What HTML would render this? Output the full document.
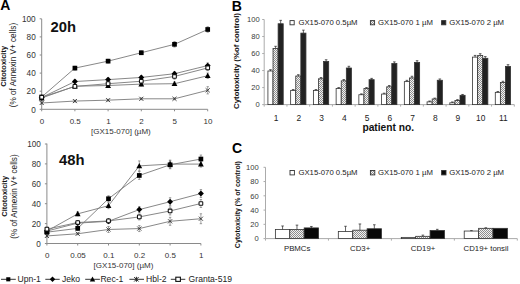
<!DOCTYPE html>
<html><head><meta charset="utf-8"><title>GX15-070 cytotoxicity figure</title>
<style>
html,body{margin:0;padding:0;background:#fff;}
body{width:520px;height:284px;overflow:hidden;}
svg{display:block;font-family:'Liberation Sans',sans-serif;}
svg text{font-family:'Liberation Sans',sans-serif;}
</style></head>
<body>
<svg width="520" height="284" viewBox="0 0 520 284">
<defs>
<pattern id="hatch" width="2" height="2" patternUnits="userSpaceOnUse">
<rect width="2" height="2" fill="#f2f2f2"/>
<rect width="1" height="1" fill="#8e8e8e"/>
<rect x="1" y="1" width="1" height="1" fill="#8e8e8e"/>
</pattern>
</defs>
<rect width="520" height="284" fill="#fff"/>
<line x1="41.70" y1="18.90" x2="41.70" y2="109.30" stroke="#8a8a8a" stroke-width="1"/>
<line x1="41.70" y1="109.30" x2="207.70" y2="109.30" stroke="#8a8a8a" stroke-width="1"/>
<line x1="39.70" y1="109.30" x2="41.70" y2="109.30" stroke="#8a8a8a" stroke-width="1"/>
<text x="35.70" y="112.50" font-size="8.2" text-anchor="end" style="" fill="#333" >0</text>
<line x1="39.70" y1="91.20" x2="41.70" y2="91.20" stroke="#8a8a8a" stroke-width="1"/>
<text x="35.70" y="94.40" font-size="8.2" text-anchor="end" style="" fill="#333" >20</text>
<line x1="39.70" y1="73.10" x2="41.70" y2="73.10" stroke="#8a8a8a" stroke-width="1"/>
<text x="35.70" y="76.30" font-size="8.2" text-anchor="end" style="" fill="#333" >40</text>
<line x1="39.70" y1="55.00" x2="41.70" y2="55.00" stroke="#8a8a8a" stroke-width="1"/>
<text x="35.70" y="58.20" font-size="8.2" text-anchor="end" style="" fill="#333" >60</text>
<line x1="39.70" y1="36.90" x2="41.70" y2="36.90" stroke="#8a8a8a" stroke-width="1"/>
<text x="35.70" y="40.10" font-size="8.2" text-anchor="end" style="" fill="#333" >80</text>
<line x1="39.70" y1="18.80" x2="41.70" y2="18.80" stroke="#8a8a8a" stroke-width="1"/>
<text x="35.70" y="22.00" font-size="8.2" text-anchor="end" style="" fill="#333" >100</text>
<line x1="41.70" y1="109.30" x2="41.70" y2="111.30" stroke="#8a8a8a" stroke-width="1"/>
<text x="42.00" y="124.30" font-size="8" text-anchor="middle" style="" fill="#333" >0</text>
<line x1="74.90" y1="109.30" x2="74.90" y2="111.30" stroke="#8a8a8a" stroke-width="1"/>
<text x="75.20" y="124.30" font-size="8" text-anchor="middle" style="" fill="#333" >0.5</text>
<line x1="108.10" y1="109.30" x2="108.10" y2="111.30" stroke="#8a8a8a" stroke-width="1"/>
<text x="108.40" y="124.30" font-size="8" text-anchor="middle" style="" fill="#333" >1</text>
<line x1="141.30" y1="109.30" x2="141.30" y2="111.30" stroke="#8a8a8a" stroke-width="1"/>
<text x="141.60" y="124.30" font-size="8" text-anchor="middle" style="" fill="#333" >2</text>
<line x1="174.50" y1="109.30" x2="174.50" y2="111.30" stroke="#8a8a8a" stroke-width="1"/>
<text x="174.80" y="124.30" font-size="8" text-anchor="middle" style="" fill="#333" >5</text>
<line x1="207.70" y1="109.30" x2="207.70" y2="111.30" stroke="#8a8a8a" stroke-width="1"/>
<text x="208.00" y="124.30" font-size="8" text-anchor="middle" style="" fill="#333" >10</text>
<text x="91.00" y="133.60" font-size="8" text-anchor="start" style="" fill="#333" >[GX15-070] (&#181;M)</text>
<text x="50.50" y="32.00" font-size="14.8" text-anchor="start" style="font-weight:bold;" fill="#111" >20h</text>
<text transform="translate(5.90,66.30) rotate(-90)" font-size="7.5" text-anchor="middle" style="font-weight:bold" fill="#111">Citotoxicity</text>
<text transform="translate(16.20,65.10) rotate(-90)" font-size="8.2" text-anchor="middle" fill="#222">(% of Annexin V+ cells)</text>
<polyline points="41.70,96.99 74.90,68.12 108.10,61.15 141.30,52.74 174.50,44.32 207.70,29.48" fill="none" stroke="#7a7a7a" stroke-width="0.9"/>
<polyline points="41.70,97.53 74.90,81.52 108.10,79.62 141.30,77.44 174.50,73.73 207.70,65.59" fill="none" stroke="#7a7a7a" stroke-width="0.9"/>
<polyline points="41.70,97.99 74.90,86.22 108.10,85.50 141.30,84.14 174.50,83.69 207.70,75.72" fill="none" stroke="#7a7a7a" stroke-width="0.9"/>
<polyline points="41.70,102.97 74.90,101.06 108.10,100.16 141.30,98.80 174.50,98.80 207.70,90.30" fill="none" stroke="#7a7a7a" stroke-width="0.9"/>
<polyline points="41.70,97.26 74.90,86.40 108.10,83.69 141.30,81.25 174.50,76.45 207.70,67.94" fill="none" stroke="#7a7a7a" stroke-width="0.9"/>
<path d="M41.70,95.18 L41.70,98.80 M40.50,95.18 L42.90,95.18 M40.50,98.80 L42.90,98.80" stroke="#666" stroke-width="0.6" fill="none"/>
<path d="M74.90,66.31 L74.90,69.93 M73.70,66.31 L76.10,66.31 M73.70,69.93 L76.10,69.93" stroke="#666" stroke-width="0.6" fill="none"/>
<path d="M108.10,59.34 L108.10,62.96 M106.90,59.34 L109.30,59.34 M106.90,62.96 L109.30,62.96" stroke="#666" stroke-width="0.6" fill="none"/>
<path d="M141.30,50.93 L141.30,54.55 M140.10,50.93 L142.50,50.93 M140.10,54.55 L142.50,54.55" stroke="#666" stroke-width="0.6" fill="none"/>
<path d="M174.50,41.61 L174.50,47.04 M173.30,41.61 L175.70,41.61 M173.30,47.04 L175.70,47.04" stroke="#666" stroke-width="0.6" fill="none"/>
<path d="M207.70,26.76 L207.70,32.19 M206.50,26.76 L208.90,26.76 M206.50,32.19 L208.90,32.19" stroke="#666" stroke-width="0.6" fill="none"/>
<path d="M41.70,95.72 L41.70,99.34 M40.50,95.72 L42.90,95.72 M40.50,99.34 L42.90,99.34" stroke="#666" stroke-width="0.6" fill="none"/>
<path d="M74.90,79.71 L74.90,83.33 M73.70,79.71 L76.10,79.71 M73.70,83.33 L76.10,83.33" stroke="#666" stroke-width="0.6" fill="none"/>
<path d="M108.10,77.81 L108.10,81.43 M106.90,77.81 L109.30,77.81 M106.90,81.43 L109.30,81.43" stroke="#666" stroke-width="0.6" fill="none"/>
<path d="M141.30,75.63 L141.30,79.25 M140.10,75.63 L142.50,75.63 M140.10,79.25 L142.50,79.25" stroke="#666" stroke-width="0.6" fill="none"/>
<path d="M174.50,71.92 L174.50,75.54 M173.30,71.92 L175.70,71.92 M173.30,75.54 L175.70,75.54" stroke="#666" stroke-width="0.6" fill="none"/>
<path d="M207.70,62.87 L207.70,68.30 M206.50,62.87 L208.90,62.87 M206.50,68.30 L208.90,68.30" stroke="#666" stroke-width="0.6" fill="none"/>
<path d="M41.70,96.18 L41.70,99.80 M40.50,96.18 L42.90,96.18 M40.50,99.80 L42.90,99.80" stroke="#666" stroke-width="0.6" fill="none"/>
<path d="M74.90,84.41 L74.90,88.03 M73.70,84.41 L76.10,84.41 M73.70,88.03 L76.10,88.03" stroke="#666" stroke-width="0.6" fill="none"/>
<path d="M108.10,83.69 L108.10,87.31 M106.90,83.69 L109.30,83.69 M106.90,87.31 L109.30,87.31" stroke="#666" stroke-width="0.6" fill="none"/>
<path d="M141.30,82.33 L141.30,85.95 M140.10,82.33 L142.50,82.33 M140.10,85.95 L142.50,85.95" stroke="#666" stroke-width="0.6" fill="none"/>
<path d="M174.50,81.88 L174.50,85.50 M173.30,81.88 L175.70,81.88 M173.30,85.50 L175.70,85.50" stroke="#666" stroke-width="0.6" fill="none"/>
<path d="M207.70,73.01 L207.70,78.44 M206.50,73.01 L208.90,73.01 M206.50,78.44 L208.90,78.44" stroke="#666" stroke-width="0.6" fill="none"/>
<path d="M41.70,102.06 L41.70,103.87 M40.50,102.06 L42.90,102.06 M40.50,103.87 L42.90,103.87" stroke="#666" stroke-width="0.6" fill="none"/>
<path d="M74.90,100.16 L74.90,101.97 M73.70,100.16 L76.10,100.16 M73.70,101.97 L76.10,101.97" stroke="#666" stroke-width="0.6" fill="none"/>
<path d="M108.10,99.25 L108.10,101.06 M106.90,99.25 L109.30,99.25 M106.90,101.06 L109.30,101.06" stroke="#666" stroke-width="0.6" fill="none"/>
<path d="M141.30,97.90 L141.30,99.71 M140.10,97.90 L142.50,97.90 M140.10,99.71 L142.50,99.71" stroke="#666" stroke-width="0.6" fill="none"/>
<path d="M174.50,97.90 L174.50,99.71 M173.30,97.90 L175.70,97.90 M173.30,99.71 L175.70,99.71" stroke="#666" stroke-width="0.6" fill="none"/>
<path d="M207.70,86.67 L207.70,93.92 M206.50,86.67 L208.90,86.67 M206.50,93.92 L208.90,93.92" stroke="#666" stroke-width="0.6" fill="none"/>
<path d="M41.70,95.45 L41.70,99.07 M40.50,95.45 L42.90,95.45 M40.50,99.07 L42.90,99.07" stroke="#666" stroke-width="0.6" fill="none"/>
<path d="M74.90,84.59 L74.90,88.21 M73.70,84.59 L76.10,84.59 M73.70,88.21 L76.10,88.21" stroke="#666" stroke-width="0.6" fill="none"/>
<path d="M108.10,81.88 L108.10,85.50 M106.90,81.88 L109.30,81.88 M106.90,85.50 L109.30,85.50" stroke="#666" stroke-width="0.6" fill="none"/>
<path d="M141.30,79.44 L141.30,83.06 M140.10,79.44 L142.50,79.44 M140.10,83.06 L142.50,83.06" stroke="#666" stroke-width="0.6" fill="none"/>
<path d="M174.50,73.73 L174.50,79.16 M173.30,73.73 L175.70,73.73 M173.30,79.16 L175.70,79.16" stroke="#666" stroke-width="0.6" fill="none"/>
<path d="M207.70,65.23 L207.70,70.66 M206.50,65.23 L208.90,65.23 M206.50,70.66 L208.90,70.66" stroke="#666" stroke-width="0.6" fill="none"/>
<rect x="39.35" y="94.64" width="4.70" height="4.70" fill="#000"/>
<rect x="72.55" y="65.77" width="4.70" height="4.70" fill="#000"/>
<rect x="105.75" y="58.80" width="4.70" height="4.70" fill="#000"/>
<rect x="138.95" y="50.39" width="4.70" height="4.70" fill="#000"/>
<rect x="172.15" y="41.97" width="4.70" height="4.70" fill="#000"/>
<rect x="205.35" y="27.13" width="4.70" height="4.70" fill="#000"/>
<path d="M41.70,94.58 L44.65,97.53 L41.70,100.48 L38.75,97.53 Z" fill="#000"/>
<path d="M74.90,78.57 L77.85,81.52 L74.90,84.47 L71.95,81.52 Z" fill="#000"/>
<path d="M108.10,76.67 L111.05,79.62 L108.10,82.57 L105.15,79.62 Z" fill="#000"/>
<path d="M141.30,74.49 L144.25,77.44 L141.30,80.39 L138.35,77.44 Z" fill="#000"/>
<path d="M174.50,70.78 L177.45,73.73 L174.50,76.68 L171.55,73.73 Z" fill="#000"/>
<path d="M207.70,62.64 L210.65,65.59 L207.70,68.54 L204.75,65.59 Z" fill="#000"/>
<path d="M41.70,94.99 L44.60,100.39 L38.80,100.39 Z" fill="#000"/>
<path d="M74.90,83.22 L77.80,88.62 L72.00,88.62 Z" fill="#000"/>
<path d="M108.10,82.50 L111.00,87.90 L105.20,87.90 Z" fill="#000"/>
<path d="M141.30,81.14 L144.20,86.54 L138.40,86.54 Z" fill="#000"/>
<path d="M174.50,80.69 L177.40,86.09 L171.60,86.09 Z" fill="#000"/>
<path d="M207.70,72.72 L210.60,78.12 L204.80,78.12 Z" fill="#000"/>
<path d="M39.65,100.92 L43.75,105.02 M43.75,100.92 L39.65,105.02" stroke="#333" stroke-width="0.9" fill="none"/>
<path d="M72.85,99.01 L76.95,103.11 M76.95,99.01 L72.85,103.11" stroke="#333" stroke-width="0.9" fill="none"/>
<path d="M106.05,98.11 L110.15,102.21 M110.15,98.11 L106.05,102.21" stroke="#333" stroke-width="0.9" fill="none"/>
<path d="M139.25,96.75 L143.35,100.85 M143.35,96.75 L139.25,100.85" stroke="#333" stroke-width="0.9" fill="none"/>
<path d="M172.45,96.75 L176.55,100.85 M176.55,96.75 L172.45,100.85" stroke="#333" stroke-width="0.9" fill="none"/>
<path d="M205.65,88.25 L209.75,92.34 M209.75,88.25 L205.65,92.34" stroke="#333" stroke-width="0.9" fill="none"/>
<rect x="39.85" y="95.41" width="3.70" height="3.70" rx="0.5" fill="#fff" stroke="#111" stroke-width="1.05"/>
<rect x="73.05" y="84.55" width="3.70" height="3.70" rx="0.5" fill="#fff" stroke="#111" stroke-width="1.05"/>
<rect x="106.25" y="81.84" width="3.70" height="3.70" rx="0.5" fill="#fff" stroke="#111" stroke-width="1.05"/>
<rect x="139.45" y="79.40" width="3.70" height="3.70" rx="0.5" fill="#fff" stroke="#111" stroke-width="1.05"/>
<rect x="172.65" y="74.60" width="3.70" height="3.70" rx="0.5" fill="#fff" stroke="#111" stroke-width="1.05"/>
<rect x="205.85" y="66.09" width="3.70" height="3.70" rx="0.5" fill="#fff" stroke="#111" stroke-width="1.05"/>
<line x1="46.90" y1="143.60" x2="46.90" y2="243.50" stroke="#8a8a8a" stroke-width="1"/>
<line x1="46.90" y1="243.50" x2="200.90" y2="243.50" stroke="#8a8a8a" stroke-width="1"/>
<line x1="44.90" y1="243.50" x2="46.90" y2="243.50" stroke="#8a8a8a" stroke-width="1"/>
<text x="40.90" y="246.70" font-size="8.2" text-anchor="end" style="" fill="#333" >0</text>
<line x1="44.90" y1="223.60" x2="46.90" y2="223.60" stroke="#8a8a8a" stroke-width="1"/>
<text x="40.90" y="226.80" font-size="8.2" text-anchor="end" style="" fill="#333" >20</text>
<line x1="44.90" y1="203.70" x2="46.90" y2="203.70" stroke="#8a8a8a" stroke-width="1"/>
<text x="40.90" y="206.90" font-size="8.2" text-anchor="end" style="" fill="#333" >40</text>
<line x1="44.90" y1="183.80" x2="46.90" y2="183.80" stroke="#8a8a8a" stroke-width="1"/>
<text x="40.90" y="187.00" font-size="8.2" text-anchor="end" style="" fill="#333" >60</text>
<line x1="44.90" y1="163.90" x2="46.90" y2="163.90" stroke="#8a8a8a" stroke-width="1"/>
<text x="40.90" y="167.10" font-size="8.2" text-anchor="end" style="" fill="#333" >80</text>
<line x1="44.90" y1="144.00" x2="46.90" y2="144.00" stroke="#8a8a8a" stroke-width="1"/>
<text x="40.90" y="147.20" font-size="8.2" text-anchor="end" style="" fill="#333" >100</text>
<line x1="46.90" y1="243.50" x2="46.90" y2="245.50" stroke="#8a8a8a" stroke-width="1"/>
<text x="47.20" y="257.70" font-size="8" text-anchor="middle" style="" fill="#333" >0</text>
<line x1="77.70" y1="243.50" x2="77.70" y2="245.50" stroke="#8a8a8a" stroke-width="1"/>
<text x="78.00" y="257.70" font-size="8" text-anchor="middle" style="" fill="#333" >0.05</text>
<line x1="108.50" y1="243.50" x2="108.50" y2="245.50" stroke="#8a8a8a" stroke-width="1"/>
<text x="108.80" y="257.70" font-size="8" text-anchor="middle" style="" fill="#333" >0.1</text>
<line x1="139.30" y1="243.50" x2="139.30" y2="245.50" stroke="#8a8a8a" stroke-width="1"/>
<text x="139.60" y="257.70" font-size="8" text-anchor="middle" style="" fill="#333" >0.2</text>
<line x1="170.10" y1="243.50" x2="170.10" y2="245.50" stroke="#8a8a8a" stroke-width="1"/>
<text x="170.40" y="257.70" font-size="8" text-anchor="middle" style="" fill="#333" >0.5</text>
<line x1="200.90" y1="243.50" x2="200.90" y2="245.50" stroke="#8a8a8a" stroke-width="1"/>
<text x="201.20" y="257.70" font-size="8" text-anchor="middle" style="" fill="#333" >1</text>
<text x="93.60" y="267.90" font-size="8" text-anchor="start" style="" fill="#333" >[GX15-070] (&#181;M)</text>
<text x="59.00" y="164.50" font-size="14.8" text-anchor="start" style="font-weight:bold;" fill="#111" >48h</text>
<text transform="translate(6.80,196.30) rotate(-90)" font-size="7.5" text-anchor="middle" style="font-weight:bold" fill="#111">Citotoxicity</text>
<text transform="translate(16.80,196.60) rotate(-90)" font-size="8.2" text-anchor="middle" fill="#222">(% of Annexin V+ cells)</text>
<polyline points="46.90,232.16 77.70,228.38 108.50,198.72 139.30,175.44 170.10,164.80 200.90,159.02" fill="none" stroke="#7a7a7a" stroke-width="0.9"/>
<polyline points="46.90,231.06 77.70,223.10 108.50,221.31 139.30,209.57 170.10,201.71 200.90,193.55" fill="none" stroke="#7a7a7a" stroke-width="0.9"/>
<polyline points="46.90,231.06 77.70,213.85 108.50,205.69 139.30,165.89 170.10,164.10 200.90,164.10" fill="none" stroke="#7a7a7a" stroke-width="0.9"/>
<polyline points="46.90,235.94 77.70,233.75 108.50,229.47 139.30,228.57 170.10,221.31 200.90,218.72" fill="none" stroke="#7a7a7a" stroke-width="0.9"/>
<polyline points="46.90,229.17 77.70,222.51 108.50,220.91 139.30,216.93 170.10,210.96 200.90,203.50" fill="none" stroke="#7a7a7a" stroke-width="0.9"/>
<path d="M46.90,230.17 L46.90,234.15 M45.70,230.17 L48.10,230.17 M45.70,234.15 L48.10,234.15" stroke="#666" stroke-width="0.6" fill="none"/>
<path d="M77.70,226.39 L77.70,230.37 M76.50,226.39 L78.90,226.39 M76.50,230.37 L78.90,230.37" stroke="#666" stroke-width="0.6" fill="none"/>
<path d="M108.50,195.74 L108.50,201.71 M107.30,195.74 L109.70,195.74 M107.30,201.71 L109.70,201.71" stroke="#666" stroke-width="0.6" fill="none"/>
<path d="M139.30,171.46 L139.30,179.42 M138.10,171.46 L140.50,171.46 M138.10,179.42 L140.50,179.42" stroke="#666" stroke-width="0.6" fill="none"/>
<path d="M170.10,160.82 L170.10,168.78 M168.90,160.82 L171.30,160.82 M168.90,168.78 L171.30,168.78" stroke="#666" stroke-width="0.6" fill="none"/>
<path d="M200.90,155.04 L200.90,163.00 M199.70,155.04 L202.10,155.04 M199.70,163.00 L202.10,163.00" stroke="#666" stroke-width="0.6" fill="none"/>
<path d="M46.90,229.07 L46.90,233.05 M45.70,229.07 L48.10,229.07 M45.70,233.05 L48.10,233.05" stroke="#666" stroke-width="0.6" fill="none"/>
<path d="M77.70,221.11 L77.70,225.09 M76.50,221.11 L78.90,221.11 M76.50,225.09 L78.90,225.09" stroke="#666" stroke-width="0.6" fill="none"/>
<path d="M108.50,219.32 L108.50,223.30 M107.30,219.32 L109.70,219.32 M107.30,223.30 L109.70,223.30" stroke="#666" stroke-width="0.6" fill="none"/>
<path d="M139.30,206.59 L139.30,212.56 M138.10,206.59 L140.50,206.59 M138.10,212.56 L140.50,212.56" stroke="#666" stroke-width="0.6" fill="none"/>
<path d="M170.10,197.73 L170.10,205.69 M168.90,197.73 L171.30,197.73 M168.90,205.69 L171.30,205.69" stroke="#666" stroke-width="0.6" fill="none"/>
<path d="M200.90,189.57 L200.90,197.53 M199.70,189.57 L202.10,189.57 M199.70,197.53 L202.10,197.53" stroke="#666" stroke-width="0.6" fill="none"/>
<path d="M46.90,229.07 L46.90,233.05 M45.70,229.07 L48.10,229.07 M45.70,233.05 L48.10,233.05" stroke="#666" stroke-width="0.6" fill="none"/>
<path d="M77.70,211.86 L77.70,215.84 M76.50,211.86 L78.90,211.86 M76.50,215.84 L78.90,215.84" stroke="#666" stroke-width="0.6" fill="none"/>
<path d="M108.50,202.70 L108.50,208.68 M107.30,202.70 L109.70,202.70 M107.30,208.68 L109.70,208.68" stroke="#666" stroke-width="0.6" fill="none"/>
<path d="M139.30,160.91 L139.30,170.86 M138.10,160.91 L140.50,160.91 M138.10,170.86 L140.50,170.86" stroke="#666" stroke-width="0.6" fill="none"/>
<path d="M170.10,160.12 L170.10,168.08 M168.90,160.12 L171.30,160.12 M168.90,168.08 L171.30,168.08" stroke="#666" stroke-width="0.6" fill="none"/>
<path d="M200.90,161.11 L200.90,167.08 M199.70,161.11 L202.10,161.11 M199.70,167.08 L202.10,167.08" stroke="#666" stroke-width="0.6" fill="none"/>
<path d="M46.90,234.94 L46.90,236.93 M45.70,234.94 L48.10,234.94 M45.70,236.93 L48.10,236.93" stroke="#666" stroke-width="0.6" fill="none"/>
<path d="M77.70,232.75 L77.70,234.74 M76.50,232.75 L78.90,232.75 M76.50,234.74 L78.90,234.74" stroke="#666" stroke-width="0.6" fill="none"/>
<path d="M108.50,226.49 L108.50,232.46 M107.30,226.49 L109.70,226.49 M107.30,232.46 L109.70,232.46" stroke="#666" stroke-width="0.6" fill="none"/>
<path d="M139.30,225.59 L139.30,231.56 M138.10,225.59 L140.50,225.59 M138.10,231.56 L140.50,231.56" stroke="#666" stroke-width="0.6" fill="none"/>
<path d="M170.10,217.33 L170.10,225.29 M168.90,217.33 L171.30,217.33 M168.90,225.29 L171.30,225.29" stroke="#666" stroke-width="0.6" fill="none"/>
<path d="M200.90,213.75 L200.90,223.70 M199.70,213.75 L202.10,213.75 M199.70,223.70 L202.10,223.70" stroke="#666" stroke-width="0.6" fill="none"/>
<path d="M46.90,227.18 L46.90,231.16 M45.70,227.18 L48.10,227.18 M45.70,231.16 L48.10,231.16" stroke="#666" stroke-width="0.6" fill="none"/>
<path d="M77.70,220.52 L77.70,224.50 M76.50,220.52 L78.90,220.52 M76.50,224.50 L78.90,224.50" stroke="#666" stroke-width="0.6" fill="none"/>
<path d="M108.50,218.92 L108.50,222.90 M107.30,218.92 L109.70,218.92 M107.30,222.90 L109.70,222.90" stroke="#666" stroke-width="0.6" fill="none"/>
<path d="M139.30,213.95 L139.30,219.92 M138.10,213.95 L140.50,213.95 M138.10,219.92 L140.50,219.92" stroke="#666" stroke-width="0.6" fill="none"/>
<path d="M170.10,206.98 L170.10,214.94 M168.90,206.98 L171.30,206.98 M168.90,214.94 L171.30,214.94" stroke="#666" stroke-width="0.6" fill="none"/>
<path d="M200.90,199.52 L200.90,207.48 M199.70,199.52 L202.10,199.52 M199.70,207.48 L202.10,207.48" stroke="#666" stroke-width="0.6" fill="none"/>
<rect x="44.55" y="229.81" width="4.70" height="4.70" fill="#000"/>
<rect x="75.35" y="226.03" width="4.70" height="4.70" fill="#000"/>
<rect x="106.15" y="196.38" width="4.70" height="4.70" fill="#000"/>
<rect x="136.95" y="173.09" width="4.70" height="4.70" fill="#000"/>
<rect x="167.75" y="162.45" width="4.70" height="4.70" fill="#000"/>
<rect x="198.55" y="156.67" width="4.70" height="4.70" fill="#000"/>
<path d="M46.90,228.11 L49.85,231.06 L46.90,234.01 L43.95,231.06 Z" fill="#000"/>
<path d="M77.70,220.15 L80.65,223.10 L77.70,226.05 L74.75,223.10 Z" fill="#000"/>
<path d="M108.50,218.36 L111.45,221.31 L108.50,224.26 L105.55,221.31 Z" fill="#000"/>
<path d="M139.30,206.62 L142.25,209.57 L139.30,212.52 L136.35,209.57 Z" fill="#000"/>
<path d="M170.10,198.76 L173.05,201.71 L170.10,204.66 L167.15,201.71 Z" fill="#000"/>
<path d="M200.90,190.60 L203.85,193.55 L200.90,196.50 L197.95,193.55 Z" fill="#000"/>
<path d="M46.90,228.06 L49.80,233.46 L44.00,233.46 Z" fill="#000"/>
<path d="M77.70,210.85 L80.60,216.25 L74.80,216.25 Z" fill="#000"/>
<path d="M108.50,202.69 L111.40,208.09 L105.60,208.09 Z" fill="#000"/>
<path d="M139.30,162.89 L142.20,168.29 L136.40,168.29 Z" fill="#000"/>
<path d="M170.10,161.10 L173.00,166.50 L167.20,166.50 Z" fill="#000"/>
<path d="M200.90,161.10 L203.80,166.50 L198.00,166.50 Z" fill="#000"/>
<path d="M44.85,233.89 L48.95,237.99 M48.95,233.89 L44.85,237.99" stroke="#333" stroke-width="0.9" fill="none"/>
<path d="M75.65,231.70 L79.75,235.80 M79.75,231.70 L75.65,235.80" stroke="#333" stroke-width="0.9" fill="none"/>
<path d="M106.45,227.42 L110.55,231.52 M110.55,227.42 L106.45,231.52" stroke="#333" stroke-width="0.9" fill="none"/>
<path d="M137.25,226.52 L141.35,230.62 M141.35,226.52 L137.25,230.62" stroke="#333" stroke-width="0.9" fill="none"/>
<path d="M168.05,219.26 L172.15,223.36 M172.15,219.26 L168.05,223.36" stroke="#333" stroke-width="0.9" fill="none"/>
<path d="M198.85,216.67 L202.95,220.77 M202.95,216.67 L198.85,220.77" stroke="#333" stroke-width="0.9" fill="none"/>
<rect x="45.05" y="227.32" width="3.70" height="3.70" rx="0.5" fill="#fff" stroke="#111" stroke-width="1.05"/>
<rect x="75.85" y="220.66" width="3.70" height="3.70" rx="0.5" fill="#fff" stroke="#111" stroke-width="1.05"/>
<rect x="106.65" y="219.06" width="3.70" height="3.70" rx="0.5" fill="#fff" stroke="#111" stroke-width="1.05"/>
<rect x="137.45" y="215.08" width="3.70" height="3.70" rx="0.5" fill="#fff" stroke="#111" stroke-width="1.05"/>
<rect x="168.25" y="209.11" width="3.70" height="3.70" rx="0.5" fill="#fff" stroke="#111" stroke-width="1.05"/>
<rect x="199.05" y="201.65" width="3.70" height="3.70" rx="0.5" fill="#fff" stroke="#111" stroke-width="1.05"/>
<text x="0.20" y="10.20" font-size="14" text-anchor="start" style="font-weight:bold;" fill="#000" >A</text>
<text x="231.80" y="10.70" font-size="14" text-anchor="start" style="font-weight:bold;" fill="#000" >B</text>
<text x="231.90" y="152.80" font-size="14" text-anchor="start" style="font-weight:bold;" fill="#000" >C</text>
<line x1="1.00" y1="279.30" x2="15.80" y2="279.30" stroke="#333" stroke-width="1"/>
<rect x="6.25" y="277.25" width="4.10" height="4.10" fill="#000"/>
<text x="17.45" y="282.00" font-size="8.6" text-anchor="start" style="" fill="#222" >Upn-1</text>
<line x1="45.30" y1="279.30" x2="59.70" y2="279.30" stroke="#333" stroke-width="1"/>
<path d="M52.50,276.55 L55.25,279.30 L52.50,282.05 L49.75,279.30 Z" fill="#000"/>
<text x="62.00" y="282.00" font-size="8.6" text-anchor="start" style="" fill="#222" >Jeko</text>
<line x1="85.20" y1="279.30" x2="99.90" y2="279.30" stroke="#333" stroke-width="1"/>
<path d="M92.50,276.50 L95.20,281.50 L89.80,281.50 Z" fill="#000"/>
<text x="100.40" y="282.00" font-size="8.6" text-anchor="start" style="" fill="#222" >Rec-1</text>
<line x1="129.40" y1="279.30" x2="144.00" y2="279.30" stroke="#333" stroke-width="1"/>
<path d="M134.20,277.10 L138.60,281.50 M138.60,277.10 L134.20,281.50 M136.40,276.80 L136.40,281.80" stroke="#222" stroke-width="1" fill="none"/>
<text x="146.10" y="282.00" font-size="8.6" text-anchor="start" style="" fill="#222" >Hbl-2</text>
<line x1="170.80" y1="279.30" x2="185.30" y2="279.30" stroke="#333" stroke-width="1"/>
<rect x="175.80" y="277.20" width="4.6" height="4.2" fill="#fff" stroke="#111" stroke-width="1.1"/>
<text x="188.60" y="282.00" font-size="8.6" text-anchor="start" style="" fill="#222" >Granta-519</text>
<line x1="264.20" y1="19.50" x2="264.20" y2="104.60" stroke="#ababab" stroke-width="1"/>
<line x1="264.20" y1="104.60" x2="514.30" y2="104.60" stroke="#ababab" stroke-width="1"/>
<line x1="262.20" y1="104.60" x2="264.20" y2="104.60" stroke="#ababab" stroke-width="1"/>
<text x="259.70" y="107.30" font-size="7.6" text-anchor="end" style="" fill="#3a3a3a" >0</text>
<line x1="262.20" y1="87.58" x2="264.20" y2="87.58" stroke="#ababab" stroke-width="1"/>
<text x="259.70" y="90.28" font-size="7.6" text-anchor="end" style="" fill="#3a3a3a" >20</text>
<line x1="262.20" y1="70.56" x2="264.20" y2="70.56" stroke="#ababab" stroke-width="1"/>
<text x="259.70" y="73.26" font-size="7.6" text-anchor="end" style="" fill="#3a3a3a" >40</text>
<line x1="262.20" y1="53.54" x2="264.20" y2="53.54" stroke="#ababab" stroke-width="1"/>
<text x="259.70" y="56.24" font-size="7.6" text-anchor="end" style="" fill="#3a3a3a" >60</text>
<line x1="262.20" y1="36.52" x2="264.20" y2="36.52" stroke="#ababab" stroke-width="1"/>
<text x="259.70" y="39.22" font-size="7.6" text-anchor="end" style="" fill="#3a3a3a" >80</text>
<line x1="262.20" y1="19.50" x2="264.20" y2="19.50" stroke="#ababab" stroke-width="1"/>
<text x="259.70" y="22.20" font-size="7.6" text-anchor="end" style="" fill="#3a3a3a" >100</text>
<line x1="264.20" y1="104.60" x2="264.20" y2="106.60" stroke="#ababab" stroke-width="1"/>
<line x1="286.94" y1="104.60" x2="286.94" y2="106.60" stroke="#ababab" stroke-width="1"/>
<line x1="309.67" y1="104.60" x2="309.67" y2="106.60" stroke="#ababab" stroke-width="1"/>
<line x1="332.41" y1="104.60" x2="332.41" y2="106.60" stroke="#ababab" stroke-width="1"/>
<line x1="355.15" y1="104.60" x2="355.15" y2="106.60" stroke="#ababab" stroke-width="1"/>
<line x1="377.88" y1="104.60" x2="377.88" y2="106.60" stroke="#ababab" stroke-width="1"/>
<line x1="400.62" y1="104.60" x2="400.62" y2="106.60" stroke="#ababab" stroke-width="1"/>
<line x1="423.35" y1="104.60" x2="423.35" y2="106.60" stroke="#ababab" stroke-width="1"/>
<line x1="446.09" y1="104.60" x2="446.09" y2="106.60" stroke="#ababab" stroke-width="1"/>
<line x1="468.83" y1="104.60" x2="468.83" y2="106.60" stroke="#ababab" stroke-width="1"/>
<line x1="491.56" y1="104.60" x2="491.56" y2="106.60" stroke="#ababab" stroke-width="1"/>
<line x1="514.30" y1="104.60" x2="514.30" y2="106.60" stroke="#ababab" stroke-width="1"/>
<rect x="267.92" y="70.99" width="5.10" height="33.61" fill="#fff" stroke="#333" stroke-width="0.8"/>
<path d="M270.47,70.99 L270.47,69.71 M269.17,69.71 L271.77,69.71" stroke="#222" stroke-width="0.7" fill="none"/>
<rect x="273.02" y="48.43" width="5.10" height="56.17" fill="url(#hatch)" stroke="#333" stroke-width="0.8"/>
<path d="M275.57,48.43 L275.57,46.31 M274.27,46.31 L276.87,46.31" stroke="#222" stroke-width="0.7" fill="none"/>
<rect x="278.12" y="23.75" width="5.10" height="80.84" fill="#222" stroke="#333" stroke-width="0.8"/>
<path d="M280.67,23.75 L280.67,20.35 M279.37,20.35 L281.97,20.35" stroke="#222" stroke-width="0.7" fill="none"/>
<text x="276.07" y="120.50" font-size="8.4" text-anchor="middle" style="" fill="#222" >1</text>
<rect x="290.65" y="90.39" width="5.10" height="14.21" fill="#fff" stroke="#333" stroke-width="0.8"/>
<path d="M293.20,90.39 L293.20,89.54 M291.90,89.54 L294.50,89.54" stroke="#222" stroke-width="0.7" fill="none"/>
<rect x="295.75" y="76.01" width="5.10" height="28.59" fill="url(#hatch)" stroke="#333" stroke-width="0.8"/>
<path d="M298.30,76.01 L298.30,74.73 M297.00,74.73 L299.60,74.73" stroke="#222" stroke-width="0.7" fill="none"/>
<rect x="300.85" y="33.12" width="5.10" height="71.48" fill="#222" stroke="#333" stroke-width="0.8"/>
<path d="M303.40,33.12 L303.40,30.14 M302.10,30.14 L304.70,30.14" stroke="#222" stroke-width="0.7" fill="none"/>
<text x="298.80" y="120.50" font-size="8.4" text-anchor="middle" style="" fill="#222" >2</text>
<rect x="313.39" y="90.39" width="5.10" height="14.21" fill="#fff" stroke="#333" stroke-width="0.8"/>
<path d="M315.94,90.39 L315.94,89.54 M314.64,89.54 L317.24,89.54" stroke="#222" stroke-width="0.7" fill="none"/>
<rect x="318.49" y="78.81" width="5.10" height="25.79" fill="url(#hatch)" stroke="#333" stroke-width="0.8"/>
<path d="M321.04,78.81 L321.04,77.54 M319.74,77.54 L322.34,77.54" stroke="#222" stroke-width="0.7" fill="none"/>
<rect x="323.59" y="61.45" width="5.10" height="43.15" fill="#222" stroke="#333" stroke-width="0.8"/>
<path d="M326.14,61.45 L326.14,59.75 M324.84,59.75 L327.44,59.75" stroke="#222" stroke-width="0.7" fill="none"/>
<text x="321.54" y="120.50" font-size="8.4" text-anchor="middle" style="" fill="#222" >3</text>
<rect x="336.13" y="88.43" width="5.10" height="16.17" fill="#fff" stroke="#333" stroke-width="0.8"/>
<path d="M338.68,88.43 L338.68,87.58 M337.38,87.58 L339.98,87.58" stroke="#222" stroke-width="0.7" fill="none"/>
<rect x="341.23" y="80.86" width="5.10" height="23.74" fill="url(#hatch)" stroke="#333" stroke-width="0.8"/>
<path d="M343.78,80.86 L343.78,79.58 M342.48,79.58 L345.08,79.58" stroke="#222" stroke-width="0.7" fill="none"/>
<rect x="346.33" y="68.01" width="5.10" height="36.59" fill="#222" stroke="#333" stroke-width="0.8"/>
<path d="M348.88,68.01 L348.88,66.30 M347.58,66.30 L350.18,66.30" stroke="#222" stroke-width="0.7" fill="none"/>
<text x="344.28" y="120.50" font-size="8.4" text-anchor="middle" style="" fill="#222" >4</text>
<rect x="358.86" y="94.73" width="5.10" height="9.87" fill="#fff" stroke="#333" stroke-width="0.8"/>
<path d="M361.41,94.73 L361.41,93.88 M360.11,93.88 L362.71,93.88" stroke="#222" stroke-width="0.7" fill="none"/>
<rect x="363.96" y="88.43" width="5.10" height="16.17" fill="url(#hatch)" stroke="#333" stroke-width="0.8"/>
<path d="M366.51,88.43 L366.51,87.58 M365.21,87.58 L367.81,87.58" stroke="#222" stroke-width="0.7" fill="none"/>
<rect x="369.06" y="79.67" width="5.10" height="24.93" fill="#222" stroke="#333" stroke-width="0.8"/>
<path d="M371.61,79.67 L371.61,78.39 M370.31,78.39 L372.91,78.39" stroke="#222" stroke-width="0.7" fill="none"/>
<text x="367.01" y="120.50" font-size="8.4" text-anchor="middle" style="" fill="#222" >5</text>
<rect x="381.60" y="94.05" width="5.10" height="10.55" fill="#fff" stroke="#333" stroke-width="0.8"/>
<path d="M384.15,94.05 L384.15,93.20 M382.85,93.20 L385.45,93.20" stroke="#222" stroke-width="0.7" fill="none"/>
<rect x="386.70" y="86.81" width="5.10" height="17.79" fill="url(#hatch)" stroke="#333" stroke-width="0.8"/>
<path d="M389.25,86.81 L389.25,85.54 M387.95,85.54 L390.55,85.54" stroke="#222" stroke-width="0.7" fill="none"/>
<rect x="391.80" y="63.58" width="5.10" height="41.02" fill="#222" stroke="#333" stroke-width="0.8"/>
<path d="M394.35,63.58 L394.35,61.88 M393.05,61.88 L395.65,61.88" stroke="#222" stroke-width="0.7" fill="none"/>
<text x="389.75" y="120.50" font-size="8.4" text-anchor="middle" style="" fill="#222" >6</text>
<rect x="404.34" y="81.62" width="5.10" height="22.98" fill="#fff" stroke="#333" stroke-width="0.8"/>
<path d="M406.89,81.62 L406.89,80.35 M405.59,80.35 L408.19,80.35" stroke="#222" stroke-width="0.7" fill="none"/>
<rect x="409.44" y="77.96" width="5.10" height="26.64" fill="url(#hatch)" stroke="#333" stroke-width="0.8"/>
<path d="M411.99,77.96 L411.99,76.26 M410.69,76.26 L413.29,76.26" stroke="#222" stroke-width="0.7" fill="none"/>
<rect x="414.54" y="62.39" width="5.10" height="42.21" fill="#222" stroke="#333" stroke-width="0.8"/>
<path d="M417.09,62.39 L417.09,60.69 M415.79,60.69 L418.39,60.69" stroke="#222" stroke-width="0.7" fill="none"/>
<text x="412.49" y="120.50" font-size="8.4" text-anchor="middle" style="" fill="#222" >7</text>
<rect x="427.07" y="101.88" width="5.10" height="2.72" fill="#fff" stroke="#333" stroke-width="0.8"/>
<path d="M429.62,101.88 L429.62,101.03 M428.32,101.03 L430.92,101.03" stroke="#222" stroke-width="0.7" fill="none"/>
<rect x="432.17" y="98.98" width="5.10" height="5.62" fill="url(#hatch)" stroke="#333" stroke-width="0.8"/>
<path d="M434.72,98.98 L434.72,98.13 M433.42,98.13 L436.02,98.13" stroke="#222" stroke-width="0.7" fill="none"/>
<rect x="437.27" y="80.26" width="5.10" height="24.34" fill="#222" stroke="#333" stroke-width="0.8"/>
<path d="M439.82,80.26 L439.82,78.98 M438.52,78.98 L441.12,78.98" stroke="#222" stroke-width="0.7" fill="none"/>
<text x="435.22" y="120.50" font-size="8.4" text-anchor="middle" style="" fill="#222" >8</text>
<rect x="449.81" y="102.81" width="5.10" height="1.79" fill="#fff" stroke="#333" stroke-width="0.8"/>
<path d="M452.36,102.81 L452.36,101.96 M451.06,101.96 L453.66,101.96" stroke="#222" stroke-width="0.7" fill="none"/>
<rect x="454.91" y="100.52" width="5.10" height="4.08" fill="url(#hatch)" stroke="#333" stroke-width="0.8"/>
<path d="M457.46,100.52 L457.46,99.66 M456.16,99.66 L458.76,99.66" stroke="#222" stroke-width="0.7" fill="none"/>
<rect x="460.01" y="95.32" width="5.10" height="9.28" fill="#222" stroke="#333" stroke-width="0.8"/>
<path d="M462.56,95.32 L462.56,94.47 M461.26,94.47 L463.86,94.47" stroke="#222" stroke-width="0.7" fill="none"/>
<text x="457.96" y="120.50" font-size="8.4" text-anchor="middle" style="" fill="#222" >9</text>
<rect x="472.55" y="57.11" width="5.10" height="47.49" fill="#fff" stroke="#333" stroke-width="0.8"/>
<path d="M475.10,57.11 L475.10,55.41 M473.80,55.41 L476.40,55.41" stroke="#222" stroke-width="0.7" fill="none"/>
<rect x="477.65" y="55.41" width="5.10" height="49.19" fill="url(#hatch)" stroke="#333" stroke-width="0.8"/>
<path d="M480.20,55.41 L480.20,53.71 M478.90,53.71 L481.50,53.71" stroke="#222" stroke-width="0.7" fill="none"/>
<rect x="482.75" y="58.31" width="5.10" height="46.29" fill="#222" stroke="#333" stroke-width="0.8"/>
<path d="M485.30,58.31 L485.30,56.60 M484.00,56.60 L486.60,56.60" stroke="#222" stroke-width="0.7" fill="none"/>
<text x="480.70" y="120.50" font-size="8.4" text-anchor="middle" style="" fill="#222" >10</text>
<rect x="495.28" y="92.35" width="5.10" height="12.25" fill="#fff" stroke="#333" stroke-width="0.8"/>
<path d="M497.83,92.35 L497.83,91.49 M496.53,91.49 L499.13,91.49" stroke="#222" stroke-width="0.7" fill="none"/>
<rect x="500.38" y="82.56" width="5.10" height="22.04" fill="url(#hatch)" stroke="#333" stroke-width="0.8"/>
<path d="M502.93,82.56 L502.93,81.28 M501.63,81.28 L504.23,81.28" stroke="#222" stroke-width="0.7" fill="none"/>
<rect x="505.48" y="66.39" width="5.10" height="38.21" fill="#222" stroke="#333" stroke-width="0.8"/>
<path d="M508.03,66.39 L508.03,64.69 M506.73,64.69 L509.33,64.69" stroke="#222" stroke-width="0.7" fill="none"/>
<text x="503.43" y="120.50" font-size="8.4" text-anchor="middle" style="" fill="#222" >11</text>
<text transform="translate(239.20,61.00) rotate(-90)" font-size="7.9" text-anchor="middle" style="font-weight:bold" fill="#111">Cytotoxicity (%of control)</text>
<rect x="290.00" y="20.60" width="4.2" height="4.2" fill="#fff" stroke="#333" stroke-width="0.9"/>
<text x="298.40" y="24.50" font-size="7.75" text-anchor="start" style="" fill="#222" >GX15-070 0.5&#181;M</text>
<rect x="370.40" y="20.60" width="4.2" height="4.2" fill="url(#hatch)" stroke="#333" stroke-width="0.9"/>
<text x="378.00" y="24.50" font-size="7.75" text-anchor="start" style="" fill="#222" >GX15-070 1 &#181;M</text>
<rect x="441.60" y="20.60" width="4.2" height="4.2" fill="#222" stroke="#333" stroke-width="0.9"/>
<text x="449.20" y="24.50" font-size="7.75" text-anchor="start" style="" fill="#222" >GX15-070 2 &#181;M</text>
<text x="362.40" y="131.30" font-size="10.25" text-anchor="start" style="font-weight:bold;" fill="#111" >patient no.</text>
<line x1="265.50" y1="167.30" x2="265.50" y2="238.60" stroke="#ababab" stroke-width="1"/>
<line x1="265.50" y1="238.60" x2="517.30" y2="238.60" stroke="#ababab" stroke-width="1"/>
<line x1="263.50" y1="238.60" x2="265.50" y2="238.60" stroke="#ababab" stroke-width="1"/>
<text x="258.70" y="241.30" font-size="7.6" text-anchor="end" style="" fill="#3a3a3a" >0</text>
<line x1="263.50" y1="224.34" x2="265.50" y2="224.34" stroke="#ababab" stroke-width="1"/>
<text x="258.70" y="227.04" font-size="7.6" text-anchor="end" style="" fill="#3a3a3a" >20</text>
<line x1="263.50" y1="210.08" x2="265.50" y2="210.08" stroke="#ababab" stroke-width="1"/>
<text x="258.70" y="212.78" font-size="7.6" text-anchor="end" style="" fill="#3a3a3a" >40</text>
<line x1="263.50" y1="195.82" x2="265.50" y2="195.82" stroke="#ababab" stroke-width="1"/>
<text x="258.70" y="198.52" font-size="7.6" text-anchor="end" style="" fill="#3a3a3a" >60</text>
<line x1="263.50" y1="181.56" x2="265.50" y2="181.56" stroke="#ababab" stroke-width="1"/>
<text x="258.70" y="184.26" font-size="7.6" text-anchor="end" style="" fill="#3a3a3a" >80</text>
<line x1="263.50" y1="167.30" x2="265.50" y2="167.30" stroke="#ababab" stroke-width="1"/>
<text x="258.70" y="170.00" font-size="7.6" text-anchor="end" style="" fill="#3a3a3a" >100</text>
<line x1="265.50" y1="238.60" x2="265.50" y2="240.60" stroke="#ababab" stroke-width="1"/>
<line x1="328.45" y1="238.60" x2="328.45" y2="240.60" stroke="#ababab" stroke-width="1"/>
<line x1="391.40" y1="238.60" x2="391.40" y2="240.60" stroke="#ababab" stroke-width="1"/>
<line x1="454.35" y1="238.60" x2="454.35" y2="240.60" stroke="#ababab" stroke-width="1"/>
<line x1="517.30" y1="238.60" x2="517.30" y2="240.60" stroke="#ababab" stroke-width="1"/>
<rect x="275.38" y="229.40" width="14.40" height="9.20" fill="#fff" stroke="#333" stroke-width="0.8"/>
<path d="M282.57,229.40 L282.57,225.98 M281.27,225.98 L283.88,225.98" stroke="#222" stroke-width="0.7" fill="none"/>
<rect x="289.77" y="229.40" width="14.40" height="9.20" fill="url(#hatch)" stroke="#333" stroke-width="0.8"/>
<path d="M296.97,229.40 L296.97,225.12 M295.67,225.12 L298.27,225.12" stroke="#222" stroke-width="0.7" fill="none"/>
<rect x="304.18" y="227.91" width="14.40" height="10.70" fill="#080808" stroke="#333" stroke-width="0.8"/>
<path d="M311.38,227.91 L311.38,226.48 M310.07,226.48 L312.68,226.48" stroke="#222" stroke-width="0.7" fill="none"/>
<text x="297.18" y="251.30" font-size="7.8" text-anchor="middle" style="" fill="#222" >PBMCs</text>
<rect x="338.32" y="231.40" width="14.40" height="7.20" fill="#fff" stroke="#333" stroke-width="0.8"/>
<path d="M345.52,231.40 L345.52,226.27 M344.22,226.27 L346.82,226.27" stroke="#222" stroke-width="0.7" fill="none"/>
<rect x="352.72" y="230.19" width="14.40" height="8.41" fill="url(#hatch)" stroke="#333" stroke-width="0.8"/>
<path d="M359.92,230.19 L359.92,223.98 M358.62,223.98 L361.22,223.98" stroke="#222" stroke-width="0.7" fill="none"/>
<rect x="367.12" y="228.76" width="14.40" height="9.84" fill="#080808" stroke="#333" stroke-width="0.8"/>
<path d="M374.32,228.76 L374.32,224.77 M373.02,224.77 L375.62,224.77" stroke="#222" stroke-width="0.7" fill="none"/>
<text x="360.12" y="251.30" font-size="7.8" text-anchor="middle" style="" fill="#222" >CD3+</text>
<rect x="401.27" y="237.39" width="14.40" height="1.21" fill="#fff" stroke="#333" stroke-width="0.8"/>
<rect x="415.67" y="236.32" width="14.40" height="2.28" fill="url(#hatch)" stroke="#333" stroke-width="0.8"/>
<path d="M422.87,236.32 L422.87,235.11 M421.57,235.11 L424.17,235.11" stroke="#222" stroke-width="0.7" fill="none"/>
<rect x="430.07" y="230.47" width="14.40" height="8.13" fill="#080808" stroke="#333" stroke-width="0.8"/>
<path d="M437.27,230.47 L437.27,229.33 M435.97,229.33 L438.57,229.33" stroke="#222" stroke-width="0.7" fill="none"/>
<text x="423.07" y="251.30" font-size="7.8" text-anchor="middle" style="" fill="#222" >CD19+</text>
<rect x="464.22" y="231.04" width="14.40" height="7.56" fill="#fff" stroke="#333" stroke-width="0.8"/>
<path d="M471.42,231.04 L471.42,230.61 M470.12,230.61 L472.72,230.61" stroke="#222" stroke-width="0.7" fill="none"/>
<rect x="478.62" y="228.33" width="14.40" height="10.27" fill="url(#hatch)" stroke="#333" stroke-width="0.8"/>
<path d="M485.82,228.33 L485.82,227.76 M484.52,227.76 L487.12,227.76" stroke="#222" stroke-width="0.7" fill="none"/>
<rect x="493.02" y="228.33" width="14.40" height="10.27" fill="#080808" stroke="#333" stroke-width="0.8"/>
<text x="486.02" y="251.30" font-size="7.8" text-anchor="middle" style="" fill="#222" >CD19+ tonsil</text>
<text transform="translate(240.00,204.60) rotate(-90)" font-size="7.0" text-anchor="middle" style="font-weight:bold" fill="#111">Cytotoxicity (% of control)</text>
<rect x="290.00" y="170.50" width="4.4" height="4.4" fill="#fff" stroke="#333" stroke-width="0.9"/>
<text x="298.40" y="174.60" font-size="7.75" text-anchor="start" style="" fill="#222" >GX15-070 0.5&#181;M</text>
<rect x="370.40" y="170.50" width="4.4" height="4.4" fill="url(#hatch)" stroke="#333" stroke-width="0.9"/>
<text x="378.00" y="174.60" font-size="7.75" text-anchor="start" style="" fill="#222" >GX15-070 1 &#181;M</text>
<rect x="441.60" y="170.50" width="4.4" height="4.4" fill="#080808" stroke="#333" stroke-width="0.9"/>
<text x="449.20" y="174.60" font-size="7.75" text-anchor="start" style="" fill="#222" >GX15-070 2 &#181;M</text>
</svg>
</body></html>
